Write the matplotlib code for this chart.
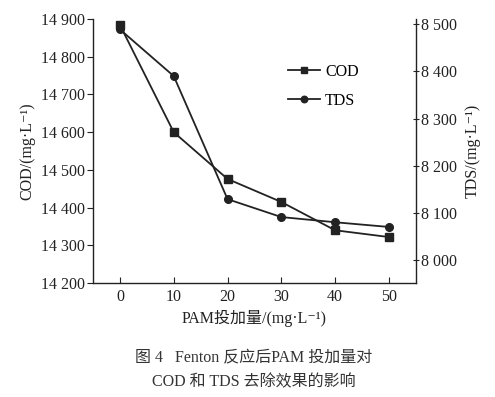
import matplotlib
matplotlib.use("Agg")
import matplotlib.pyplot as plt

plt.rcParams['font.family'] = ['Liberation Serif', 'Noto Sans CJK SC', 'DejaVu Sans']

pam = [0, 10, 20, 30, 40, 50]
cod = [14884, 14600, 14476, 14415, 14340, 14322]
tds = [8489, 8390, 8129, 8091, 8080, 8070]
cod_ticks = [14200, 14300, 14400, 14500, 14600, 14700, 14800, 14900]
tds_ticks = [8000, 8100, 8200, 8300, 8400, 8500]
x_ticks = [0, 10, 20, 30, 40, 50]

def fmt(v):
    return f"{v:,}".replace(",", " ")

fig = plt.figure(figsize=(4.95, 3.97), dpi=100)
ax = fig.add_axes([0.188, 0.287, 0.652, 0.665])
ax2 = ax.twinx()

c = '#222222'
l1, = ax.plot(pam, cod, '-s', color=c, lw=1.3, ms=5.5, label='COD')
l2, = ax2.plot(pam, tds, '-o', color=c, lw=1.3, ms=5.5, label='TDS')

ax.set_xlim(-5, 55)
ax.set_ylim(14200, 14900)
ax2.set_ylim(7951, 8511)

ax.set_xticks(x_ticks)
ax.set_yticks(cod_ticks)
ax.set_yticklabels([fmt(v) for v in cod_ticks])
ax2.set_yticks(tds_ticks)
ax2.set_yticklabels([fmt(v) for v in tds_ticks])

for a in (ax, ax2):
    a.spines['top'].set_visible(False)
    for s in a.spines.values():
        s.set_linewidth(1.0)
        s.set_color(c)
ax.spines['right'].set_visible(False)
ax2.spines['left'].set_visible(False)
ax2.spines['bottom'].set_visible(False)

ax.tick_params(axis='x', direction='in', length=4, labelsize=11.5, pad=4, colors=c)
ax.tick_params(axis='y', direction='out', length=4, labelsize=11.5, pad=2, colors=c)
ax2.tick_params(axis='y', direction='inout', length=5, labelsize=11.5, pad=1, colors=c)

ax.set_ylabel('COD/(mg·L⁻¹)', fontsize=11.5, labelpad=4, color=c)
ax2.set_ylabel('TDS/(mg·L⁻¹)', fontsize=11.5, labelpad=6, color=c)
ax.set_xlabel('PAM投加量/(mg·L⁻¹)', fontsize=11.5, labelpad=4, color=c)

ax.legend([l1, l2], ['COD', 'TDS'], loc='upper left', bbox_to_anchor=(0.56, 0.885),
          frameon=False, fontsize=11.5, handlelength=2.0, labelspacing=0.8,
          handletextpad=0.3, markerscale=0.85)

fig.text(0.512, 0.098, '图 4   Fenton 反应后PAM 投加量对', ha='center', va='center', fontsize=11.5, color='#333333')
fig.text(0.512, 0.038, 'COD 和 TDS 去除效果的影响', ha='center', va='center', fontsize=11.5, color='#333333')

fig.savefig('out.png', dpi=100)
